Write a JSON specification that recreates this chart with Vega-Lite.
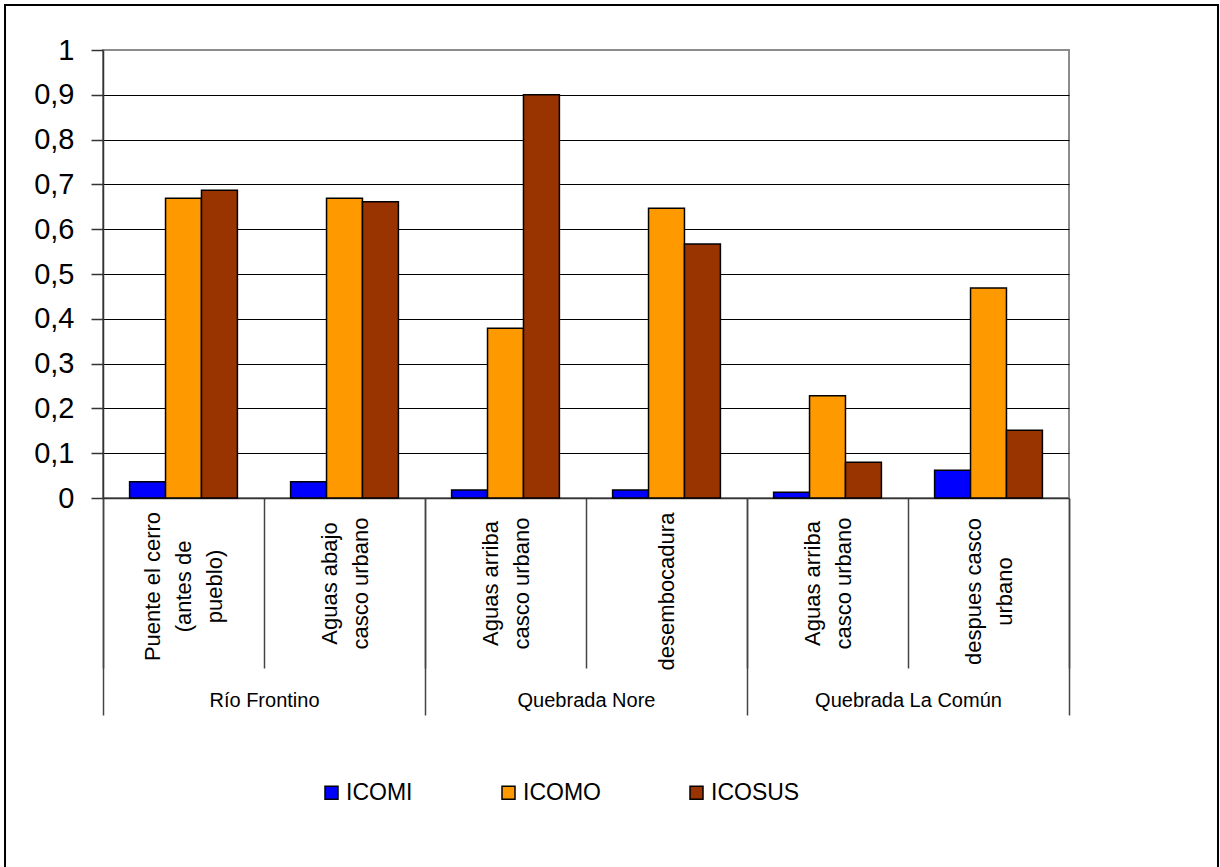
{
  "$schema": "https://vega.github.io/schema/vega-lite/v6.json",
  "width": 966,
  "height": 448,
  "autosize": "none",
  "padding": {"left": 103, "top": 50, "right": 151, "bottom": 369},
  "background": "white",
  "config": {
    "font": "Liberation Sans",
    "view": {"stroke": "#8c8c8c", "strokeWidth": 2}
  },
  "layer": [
    {
      "data": {
        "values": [
          {"sitio": "Río Frontino|Puente el cerro|(antes de|pueblo)", "indice": "ICOMI", "valor": 0.036},
          {"sitio": "Río Frontino|Puente el cerro|(antes de|pueblo)", "indice": "ICOMO", "valor": 0.669},
          {"sitio": "Río Frontino|Puente el cerro|(antes de|pueblo)", "indice": "ICOSUS", "valor": 0.687},
          {"sitio": "Río Frontino|Aguas abajo|casco urbano", "indice": "ICOMI", "valor": 0.036},
          {"sitio": "Río Frontino|Aguas abajo|casco urbano", "indice": "ICOMO", "valor": 0.669},
          {"sitio": "Río Frontino|Aguas abajo|casco urbano", "indice": "ICOSUS", "valor": 0.661},
          {"sitio": "Quebrada Nore|Aguas arriba|casco urbano", "indice": "ICOMI", "valor": 0.018},
          {"sitio": "Quebrada Nore|Aguas arriba|casco urbano", "indice": "ICOMO", "valor": 0.379},
          {"sitio": "Quebrada Nore|Aguas arriba|casco urbano", "indice": "ICOSUS", "valor": 0.9},
          {"sitio": "Quebrada Nore|desembocadura", "indice": "ICOMI", "valor": 0.018},
          {"sitio": "Quebrada Nore|desembocadura", "indice": "ICOMO", "valor": 0.647},
          {"sitio": "Quebrada Nore|desembocadura", "indice": "ICOSUS", "valor": 0.567},
          {"sitio": "Quebrada La Común|Aguas arriba|casco urbano", "indice": "ICOMI", "valor": 0.013},
          {"sitio": "Quebrada La Común|Aguas arriba|casco urbano", "indice": "ICOMO", "valor": 0.228},
          {"sitio": "Quebrada La Común|Aguas arriba|casco urbano", "indice": "ICOSUS", "valor": 0.08},
          {"sitio": "Quebrada La Común|despues casco|urbano", "indice": "ICOMI", "valor": 0.062},
          {"sitio": "Quebrada La Común|despues casco|urbano", "indice": "ICOMO", "valor": 0.469},
          {"sitio": "Quebrada La Común|despues casco|urbano", "indice": "ICOSUS", "valor": 0.151}
        ]
      },
      "mark": {"type": "bar", "stroke": "black", "strokeWidth": 1.5},
      "encoding": {
        "x": {
          "field": "sitio",
          "type": "nominal",
          "sort": null,
          "scale": {"paddingInner": 0, "paddingOuter": 0},
          "axis": {
            "orient": "bottom",
            "title": null,
            "tickBand": "extent",
            "tickSize": 170,
            "tickColor": "#444",
            "tickWidth": 1.5,
            "domainColor": "#333",
            "domainWidth": 1.5,
            "labelAngle": -90,
            "labelAlign": "center",
            "labelBaseline": "middle",
            "labelPadding": {
              "condition": [
                {"test": "indexof(datum.label, 'desembocadura') >= 0 || indexof(datum.label, 'despues') >= 0", "value": -77},
                {"test": "indexof(datum.label, 'Puente') >= 0", "value": -82}
              ],
              "value": -85
            },
            "labelOffset": {
              "condition": [
                {"test": "length(split(datum.label, '|')) === 4", "value": -31},
                {"test": "length(split(datum.label, '|')) === 3", "value": -15.5}
              ],
              "value": 0
            },
            "labelFontSize": 22,
            "labelLineHeight": 31,
            "labelLimit": 400,
            "labelColor": "black",
            "labelExpr": "slice(split(datum.label, '|'), 1)"
          }
        },
        "xOffset": {
          "field": "indice",
          "type": "nominal",
          "sort": ["ICOMI", "ICOMO", "ICOSUS"],
          "scale": {"paddingInner": 0, "paddingOuter": 0.74}
        },
        "y": {
          "field": "valor",
          "type": "quantitative",
          "scale": {"domain": [0, 1], "nice": false},
          "axis": {
            "title": null,
            "values": [0, 0.1, 0.2, 0.3, 0.4, 0.5, 0.6, 0.7, 0.8, 0.9, 1],
            "labelExpr": "replace(format(datum.value, '.1~f'), '.', ',')",
            "labelFontSize": 29,
            "labelColor": "black",
            "labelPadding": 17,
            "tickSize": 12,
            "tickColor": "#333",
            "tickWidth": 1.5,
            "domainColor": "#333",
            "domainWidth": 1.5,
            "grid": true,
            "gridColor": "black",
            "gridWidth": 1,
            "gridOpacity": {"condition": {"test": "datum.value >= 1 || datum.value <= 0", "value": 0}, "value": 1}
          }
        },
        "color": {
          "field": "indice",
          "type": "nominal",
          "scale": {"domain": ["ICOMI", "ICOMO", "ICOSUS"], "range": ["#0000ff", "#ff9900", "#993300"]},
          "legend": {
            "orient": "none",
            "legendX": 217,
            "legendY": 731,
            "direction": "horizontal",
            "title": null,
            "padding": 0,
            "symbolType": "square",
            "symbolSize": 169,
            "symbolStrokeColor": "black",
            "symbolStrokeWidth": 1.5,
            "symbolOpacity": 1,
            "labelFontSize": 23,
            "labelColor": "black",
            "labelOffset": 3,
            "columnPadding": 84
          }
        }
      }
    },
    {
      "data": {"values": [{"marco": "borde"}]},
      "mark": {"type": "rect", "fill": null, "stroke": "black", "strokeWidth": 2, "clip": false},
      "encoding": {
        "x": {
          "datum": -0.3043,
          "type": "quantitative",
          "scale": {"domain": [0, 3], "nice": false, "zero": false},
          "axis": {
            "orient": "bottom",
            "title": null,
            "domain": false,
            "grid": false,
            "values": [0, 0.5, 1, 1.5, 2, 2.5, 3],
            "tickSize": 217,
            "tickColor": "#444",
            "tickWidth": 1.5,
            "tickOpacity": {"condition": {"test": "datum.value % 1 !== 0", "value": 0}, "value": 1},
            "labelExpr": "datum.value === 0.5 ? 'Río Frontino' : datum.value === 1.5 ? 'Quebrada Nore' : datum.value === 2.5 ? 'Quebrada La Común' : ''",
            "labelFontSize": 20,
            "labelColor": "black",
            "labelBaseline": "alphabetic",
            "labelPadding": -9,
            "labelLimit": 400,
            "labelFlush": false,
            "labelOverlap": false,
            "labelBound": false
          }
        },
        "x2": {"datum": 3.4627},
        "y": {"datum": 1.1004, "type": "quantitative", "scale": {"domain": [0, 1], "nice": false}},
        "y2": {"datum": -0.9}
      }
    }
  ],
  "resolve": {"scale": {"x": "independent"}, "axis": {"x": "independent"}}
}
